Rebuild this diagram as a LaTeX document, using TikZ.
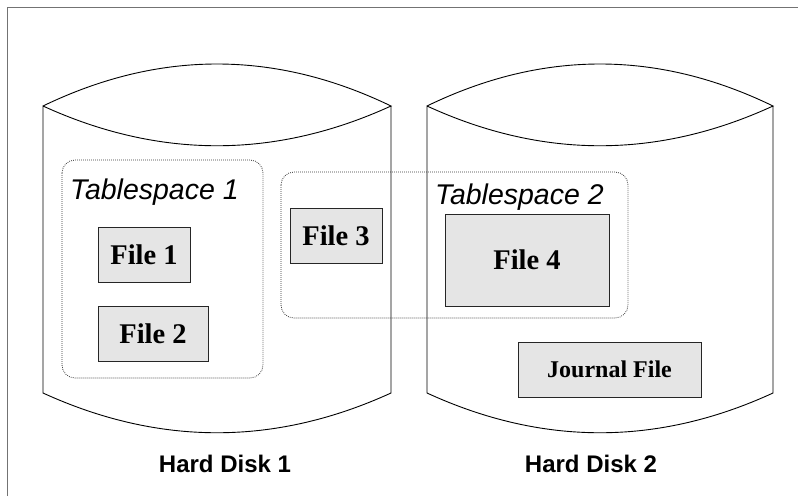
\documentclass[tikz,border=0pt]{standalone}
\usepackage{fontspec}
\setmainfont{Liberation Serif}
\setsansfont{Liberation Sans}
\begin{document}
\begin{tikzpicture}[x=1pt,y=-1pt,
  frame/.style={draw=black!55,line width=1pt},
  disk/.style={draw=black,line width=0.9pt},
  tspace/.style={draw=black!80,line width=0.8pt,dash pattern=on 0.8pt off 1.2pt,rounded corners=13pt},
  filebox/.style={draw=black!85,fill=black!10,line width=0.9pt,inner sep=0pt,
    font=\fontsize{28.5}{32}\selectfont\bfseries},
  tslabel/.style={font=\sffamily\itshape\fontsize{28.5}{32}\selectfont,inner sep=0pt,anchor=base west},
  disklabel/.style={font=\sffamily\bfseries\fontsize{24}{28}\selectfont,inner sep=0pt,anchor=base}]
\useasboundingbox (0,0) rectangle (798,496);
\fill[white] (0,0) rectangle (798,496);
% outer frame (cut by the picture edges)
\draw[frame] (7,496) -- (7,7) -- (798,7);
% disks
\foreach \l/\r in {43/391,427/773}{
  \pgfmathsetmacro{\a}{\l+(\r-\l)/3}
  \pgfmathsetmacro{\b}{\r-(\r-\l)/3}
  \draw[disk] (\l,106) .. controls (\a,50) and (\b,50) .. (\r,106)
     .. controls (\b,159) and (\a,159) .. (\l,106) -- (\l,393)
     .. controls (\a,446) and (\b,446) .. (\r,393) -- (\r,106);
}
% tablespaces
\draw[tspace] (62,160) rectangle (263,378);
\draw[tspace] (281,172) rectangle (628,318);
\node[tslabel] (ts1) at (70,199) {Tablespace 1};
\node[tslabel] (ts2) at (435,204) {Tablespace 2};
% files
\node[filebox,minimum width=92pt,minimum height=55pt] (f1) at (144,254.5) {File 1};
\node[filebox,minimum width=110pt,minimum height=55pt] (f2) at (153,333.5) {File 2};
\node[filebox,minimum width=92pt,minimum height=55pt] (f3) at (336,235.5) {File 3};
\node[filebox,minimum width=164pt,minimum height=92pt] (f4) at (527,260) {File 4};
\node[filebox,minimum width=183pt,minimum height=55pt,font=\fontsize{24}{28}\selectfont\bfseries] (jf) at (609.5,369.5) {Journal File};
% disk labels
\node[disklabel] (hd1) at (225,472) {Hard Disk 1};
\node[disklabel] (hd2) at (591,472) {Hard Disk 2};
\end{tikzpicture}
\end{document}
